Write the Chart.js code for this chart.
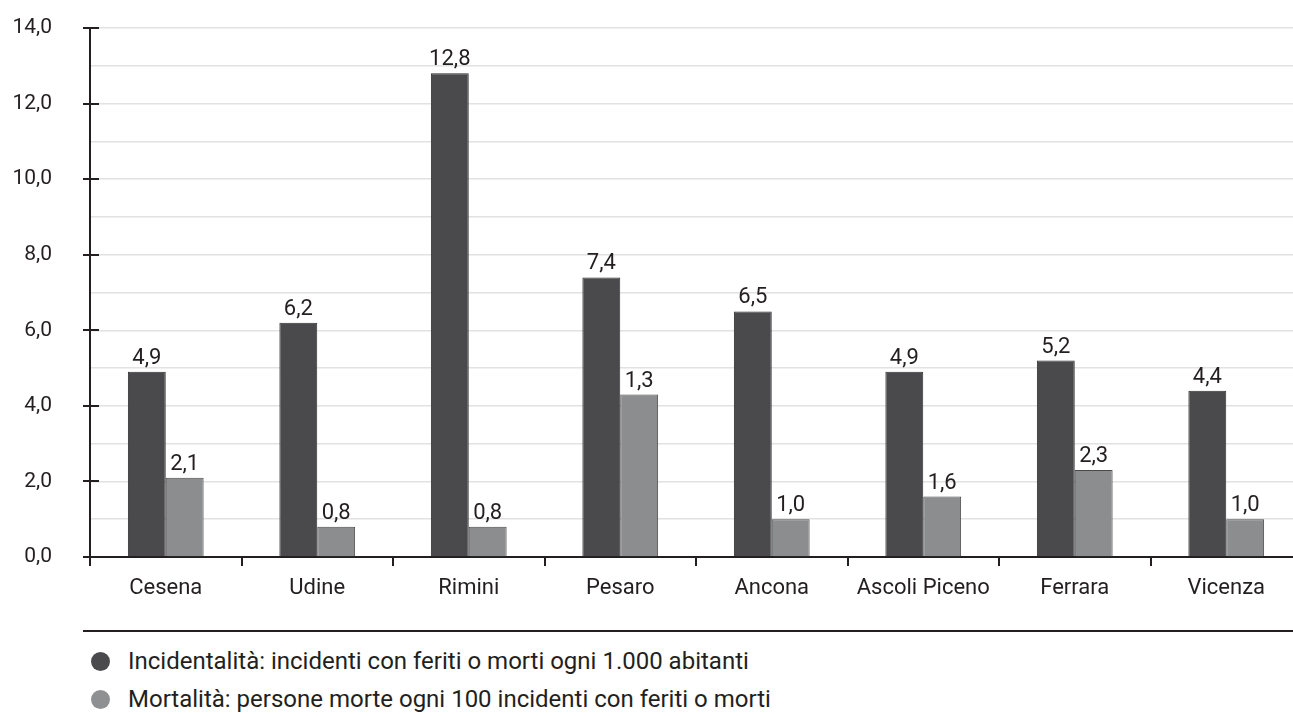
<!DOCTYPE html>
<html>
<head>
<meta charset="utf-8">
<script src="https://cdn.jsdelivr.net/npm/chart.js@4.4.1/dist/chart.umd.min.js"></script>
<style>
  html, body { margin:0; padding:0; background:#fff; overflow:hidden; width:1293px; height:716px; }
  #wrap { position:absolute; left:0; top:0; width:1302px; height:610px; }
  #legendLine { position:absolute; left:83px; top:630px; width:1220px; height:2px; background:#231f20; }
  .leg { position:absolute; left:91px; height:20px; font-family:Roboto, sans-serif; font-size:24px; color:#231f20; white-space:nowrap; line-height:20px; }
  .leg .dot { position:absolute; left:0; top:1px; width:19px; height:19px; border-radius:50%; }
  .leg span.t { position:absolute; left:37px; top:0px; }
</style>
</head>
<body>
<div id="wrap"><canvas id="c" width="1302" height="610"></canvas></div>
<div id="legendLine"></div>
<div class="leg" style="top:651px"><div class="dot" style="background:#4a4a4c"></div><span class="t" id="l1"></span></div>
<div class="leg" style="top:689px"><div class="dot" style="background:#8f9092"></div><span class="t" id="l2"></span></div>
<script>
const categories = ["Cesena","Udine","Rimini","Pesaro","Ancona","Ascoli Piceno","Ferrara","Vicenza"];
const seriesNames = [
  "Incidentalità: incidenti con feriti o morti ogni 1.000 abitanti",
  "Mortalità: persone morte ogni 100 incidenti con feriti o morti"
];
const incidentalita = [4.9, 6.2, 12.8, 7.4, 6.5, 4.9, 5.2, 4.4];
const mortalita = [2.1, 0.8, 0.8, 4.3, 1.0, 1.6, 2.3, 1.0];
const incidentalitaLabels = ["4,9","6,2","12,8","7,4","6,5","4,9","5,2","4,4"];
const mortalitaLabels = ["2,1","0,8","0,8","1,3","1,0","1,6","2,3","1,0"];
const yTicks = [0, 2, 4, 6, 8, 10, 12, 14];

document.getElementById('l1').textContent = seriesNames[0];
document.getElementById('l2').textContent = seriesNames[1];

const FONT = 'Roboto, sans-serif';
const INK = '#231f20';

const valueLabels = {
  id: 'valueLabels',
  afterDatasetsDraw(chart) {
    const ctx = chart.ctx;
    const sets = [incidentalitaLabels, mortalitaLabels];
    ctx.save();
    ctx.font = '22px ' + FONT;
    ctx.fillStyle = INK;
    ctx.textAlign = 'center';
    ctx.textBaseline = 'alphabetic';
    chart.data.datasets.forEach((ds, di) => {
      chart.getDatasetMeta(di).data.forEach((bar, i) => {
        ctx.fillText(sets[di][i], bar.x, bar.y - 8);
      });
    });
    ctx.restore();
  }
};

const yTickMarks = {
  id: 'yTickMarks',
  afterDraw(chart) {
    const ctx = chart.ctx;
    const y = chart.scales.y;
    const x0 = chart.chartArea.left;
    ctx.save();
    ctx.strokeStyle = INK;
    ctx.lineWidth = 2;
    yTicks.forEach(v => {
      const py = Math.round(y.getPixelForValue(v));
      ctx.beginPath();
      ctx.moveTo(x0 - 7, py);
      ctx.lineTo(x0 + 9, py);
      ctx.stroke();
    });
    ctx.restore();
  }
};

new Chart(document.getElementById('c'), {
  type: 'bar',
  data: {
    labels: categories,
    datasets: [
      { label: seriesNames[0], data: incidentalita, backgroundColor: '#4a4a4c', borderColor: '#2f2f30', borderWidth: 1 },
      { label: seriesNames[1], data: mortalita, backgroundColor: '#8c8d8f', borderColor: '#4a4a4c', borderWidth: 1 }
    ]
  },
  options: {
    responsive: false,
    animation: false,
    devicePixelRatio: 1,
    layout: { padding: { top: 28, left: 0, right: 0, bottom: 0 } },
    datasets: { bar: { categoryPercentage: 0.5, barPercentage: 1.0 } },
    plugins: { legend: { display: false }, tooltip: { enabled: false } },
    scales: {
      x: {
        afterFit(s) { s.height = 53; s.paddingLeft = 0; s.paddingRight = 0; },
        grid: { drawOnChartArea: false, drawTicks: true, tickLength: 9, color: INK, lineWidth: 2, offset: true },
        border: { color: INK, width: 2 },
        ticks: { font: { family: FONT, size: 22 }, color: INK, padding: 9, maxRotation: 0, autoSkip: false }
      },
      y: {
        min: 0, max: 14,
        afterFit(s) { s.width = 90; s.paddingTop = 0; s.paddingBottom = 0; },
        grid: { drawTicks: false, color: '#e2e2e2', lineWidth: 1.5 },
        border: { color: INK, width: 2 },
        ticks: {
          stepSize: 1,
          autoSkip: false,
          padding: 38,
          font: { family: FONT, size: 21 },
          color: INK,
          callback(v) { return yTicks.includes(v) ? v.toFixed(1).replace('.', ',') : ''; }
        }
      }
    }
  },
  plugins: [valueLabels, yTickMarks]
});
</script>
</body>
</html>
